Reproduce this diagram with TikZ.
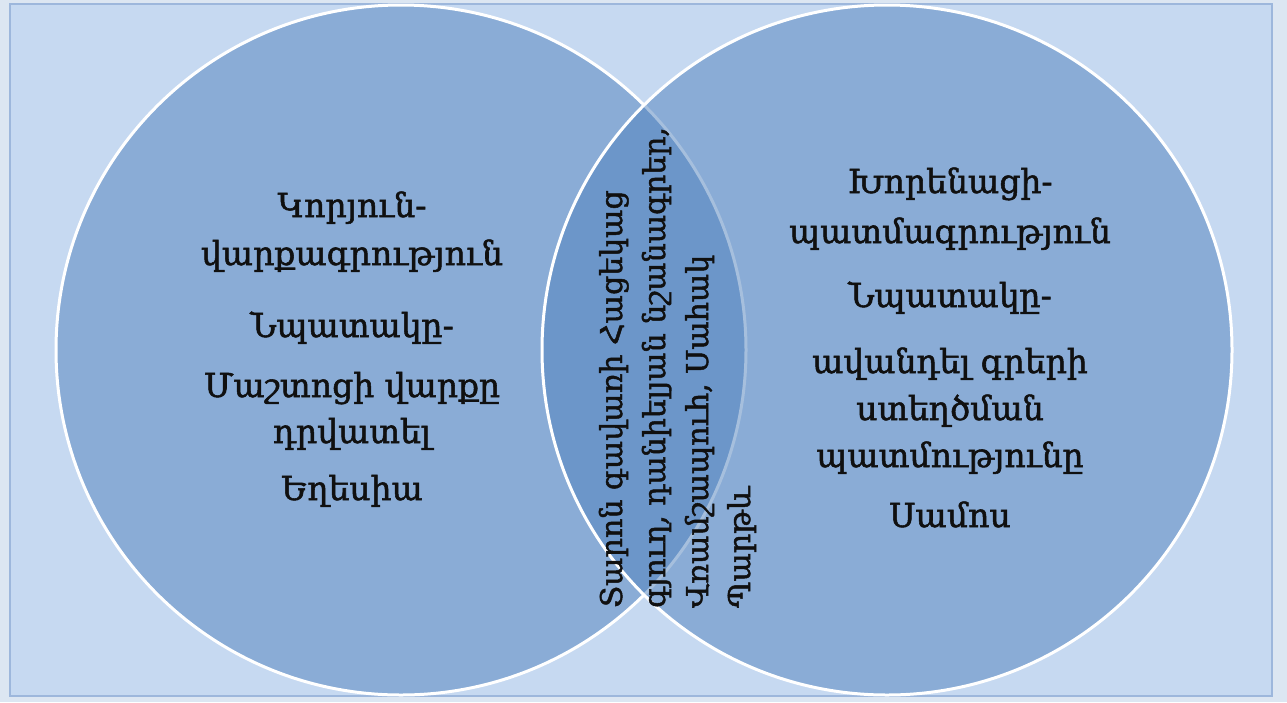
\documentclass[tikz,border=0pt]{standalone}
\usepackage{fontspec}
\setmainfont{DejaVu Serif}
\newfontfamily\armfont{DejaVu Serif}[FakeBold=1.6]
\definecolor{outerbg}{HTML}{DCE6F2}
\definecolor{innerbg}{HTML}{C6D9F1}
\definecolor{frameline}{HTML}{9DB7DC}
\definecolor{accent}{HTML}{4F81BD}
\definecolor{ink}{HTML}{101010}
\tikzset{
  venn/.style={fill=accent, fill opacity=0.5, draw=white, draw opacity=1, line width=3pt},
  sidetext/.style={anchor=base, text=ink, inner sep=0pt, font=\armfont\fontsize{33}{40}\selectfont},
  midtext/.style={anchor=base west, rotate=90, text=ink, inner sep=0pt, font=\armfont\fontsize{30}{36}\selectfont},
}
\begin{document}
\begin{tikzpicture}[x=1pt,y=-1pt]
\useasboundingbox (0,0) rectangle (1287,702);
\fill[outerbg] (0,0) rectangle (1287,702);
\draw[frameline, fill=innerbg, line width=1.5pt] (10,4) rectangle (1272,696);
\node[venn, circle, minimum size=690pt, inner sep=0pt] (L) at (401,350) {};
\node[venn, circle, minimum size=690pt, inner sep=0pt] (R) at (887,350) {};
% left texts
\node[sidetext] (l1) at (352,217) {Կորյուն-};
\node[sidetext] (l2) at (352,265) {վարքագրություն};
\node[sidetext] (l3) at (352,337) {Նպատակը-};
\node[sidetext] (l4) at (352,397) {Մաշտոցի վարքը};
\node[sidetext] (l5) at (352,443) {դրվատել};
\node[sidetext] (l6) at (352,500) {Եղեսիա};
% right texts
\node[sidetext] (r1) at (950,193) {Խորենացի-};
\node[sidetext] (r2) at (950,243) {պատմագրություն};
\node[sidetext] (r3) at (950,307) {Նպատակը-};
\node[sidetext] (r4) at (950,373) {ավանդել գրերի};
\node[sidetext] (r5) at (950,420) {ստեղծման};
\node[sidetext] (r6) at (950,467) {պատմությունը};
\node[sidetext] (r7) at (950,527) {Սամոս};
% middle texts
\node[midtext] (m1) at (622,608) {Տարոն գավառի Հացեկաց};
\node[midtext] (m2) at (665,608) {գյուղ, դանիելյան նշանագրեր,};
\node[midtext] (m3) at (708,608) {Վռամշապուհ, Սահակ};
\node[midtext] (m4) at (750,608) {Պարթև};
\end{tikzpicture}
\end{document}
